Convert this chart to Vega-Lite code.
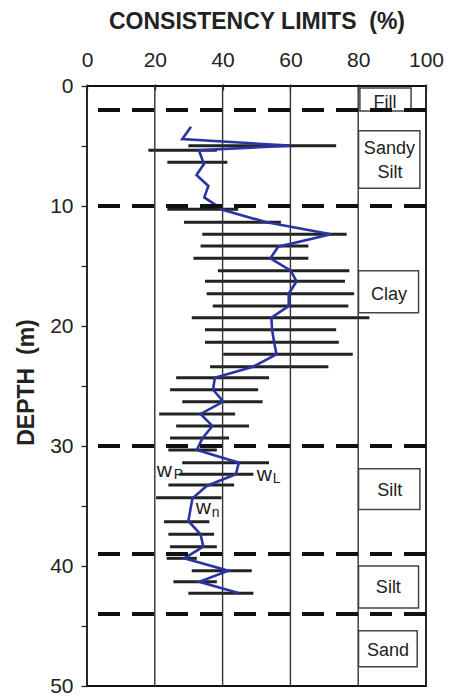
{
  "$schema": "https://vega.github.io/schema/vega-lite/v6.json",
  "width": 339,
  "height": 600,
  "autosize": {"type": "none"},
  "padding": {"left": 87, "top": 86, "right": 24, "bottom": 12},
  "background": "white",
  "config": {"view": {"stroke": "#111", "strokeWidth": 1.8}, "font": "Liberation Sans"},
  "datasets": {
    "bars": [
      {"depth": 4.97, "wp": 29.9, "wl": 73.5},
      {"depth": 5.36, "wp": 18.1, "wl": 38.3},
      {"depth": 6.36, "wp": 23.7, "wl": 41.4},
      {"depth": 10.27, "wp": 23.7, "wl": 44.6},
      {"depth": 11.36, "wp": 28.6, "wl": 57.2},
      {"depth": 12.36, "wp": 34.0, "wl": 76.6},
      {"depth": 13.33, "wp": 33.5, "wl": 65.3},
      {"depth": 14.36, "wp": 31.4, "wl": 65.3},
      {"depth": 15.39, "wp": 38.6, "wl": 77.4},
      {"depth": 16.28, "wp": 34.8, "wl": 76.1},
      {"depth": 17.31, "wp": 35.3, "wl": 78.8},
      {"depth": 18.33, "wp": 37.1, "wl": 77.1},
      {"depth": 19.31, "wp": 30.9, "wl": 83.3},
      {"depth": 20.31, "wp": 34.8, "wl": 73.5},
      {"depth": 21.36, "wp": 34.8, "wl": 74.3},
      {"depth": 22.36, "wp": 40.2, "wl": 78.4},
      {"depth": 23.39, "wp": 36.3, "wl": 71.2},
      {"depth": 24.31, "wp": 26.3, "wl": 53.7},
      {"depth": 25.31, "wp": 24.5, "wl": 50.5},
      {"depth": 26.31, "wp": 28.1, "wl": 51.8},
      {"depth": 27.33, "wp": 21.3, "wl": 43.7},
      {"depth": 28.33, "wp": 26.3, "wl": 47.8},
      {"depth": 29.33, "wp": 24.5, "wl": 41.9},
      {"depth": 30.33, "wp": 24.0, "wl": 38.3},
      {"depth": 31.39, "wp": 28.1, "wl": 53.7},
      {"depth": 32.36, "wp": 27.2, "wl": 49.1},
      {"depth": 33.25, "wp": 24.0, "wl": 43.4},
      {"depth": 34.31, "wp": 20.4, "wl": 39.7},
      {"depth": 36.31, "wp": 22.7, "wl": 36.1},
      {"depth": 37.36, "wp": 24.0, "wl": 37.5},
      {"depth": 38.39, "wp": 24.5, "wl": 38.3},
      {"depth": 39.36, "wp": 23.5, "wl": 32.4},
      {"depth": 40.39, "wp": 30.9, "wl": 48.6},
      {"depth": 41.31, "wp": 25.5, "wl": 38.3},
      {"depth": 42.28, "wp": 29.9, "wl": 49.1}
    ],
    "wn": [
      {"depth": 3.39, "wn": 30.7},
      {"depth": 4.42, "wn": 28.1},
      {"depth": 4.97, "wn": 59.8},
      {"depth": 5.36, "wn": 33.0},
      {"depth": 6.5, "wn": 34.5},
      {"depth": 7.42, "wn": 32.3},
      {"depth": 8.33, "wn": 35.8},
      {"depth": 9.28, "wn": 34.6},
      {"depth": 10.33, "wn": 40.2},
      {"depth": 11.36, "wn": 53.0},
      {"depth": 12.36, "wn": 72.0},
      {"depth": 13.39, "wn": 56.4},
      {"depth": 14.36, "wn": 54.1},
      {"depth": 15.39, "wn": 60.1},
      {"depth": 16.28, "wn": 61.8},
      {"depth": 17.31, "wn": 59.5},
      {"depth": 18.33, "wn": 59.5},
      {"depth": 19.31, "wn": 54.4},
      {"depth": 20.33, "wn": 54.6},
      {"depth": 21.36, "wn": 55.2},
      {"depth": 22.36, "wn": 55.9},
      {"depth": 23.39, "wn": 49.0},
      {"depth": 24.31, "wn": 37.7},
      {"depth": 25.31, "wn": 37.2},
      {"depth": 26.31, "wn": 40.2},
      {"depth": 27.33, "wn": 33.5},
      {"depth": 28.33, "wn": 37.0},
      {"depth": 29.33, "wn": 34.1},
      {"depth": 30.33, "wn": 32.4},
      {"depth": 31.39, "wn": 44.8},
      {"depth": 32.36, "wn": 43.9},
      {"depth": 33.33, "wn": 35.3},
      {"depth": 34.36, "wn": 31.1},
      {"depth": 36.25, "wn": 29.9},
      {"depth": 37.36, "wn": 33.5},
      {"depth": 38.39, "wn": 34.3},
      {"depth": 39.36, "wn": 28.7},
      {"depth": 40.39, "wn": 41.7},
      {"depth": 41.31, "wn": 33.1},
      {"depth": 42.28, "wn": 44.9}
    ],
    "bounds": [{"depth": 2}, {"depth": 10}, {"depth": 30}, {"depth": 39}, {"depth": 44}],
    "grid": [{"v": 20}, {"v": 40}, {"v": 60}, {"v": 80}],
    "boxes": [
      {"x1": 80.5, "x2": 95.6, "d1": 0.17, "d2": 2.08},
      {"x1": 80.1, "x2": 98.2, "d1": 3.72, "d2": 8.53},
      {"x1": 80.1, "x2": 97.8, "d1": 15.4, "d2": 18.9},
      {"x1": 80.1, "x2": 98.2, "d1": 31.9, "d2": 35.3},
      {"x1": 80.1, "x2": 97.8, "d1": 40.0, "d2": 43.5},
      {"x1": 80.1, "x2": 97.4, "d1": 45.4, "d2": 48.4}
    ],
    "boxlabels": [
      {"x": 87.9, "depth": 1.85, "t": "Fill"},
      {"x": 89.2, "depth": 5.67, "t": "Sandy"},
      {"x": 89.4, "depth": 7.69, "t": "Silt"},
      {"x": 89.1, "depth": 17.83, "t": "Clay"},
      {"x": 89.3, "depth": 34.17, "t": "Silt"},
      {"x": 88.9, "depth": 42.28, "t": "Silt"},
      {"x": 88.8, "depth": 47.47, "t": "Sand"}
    ],
    "wlabels": [
      {"x": 20.6, "depth": 32.6, "t": "w"},
      {"x": 50.1, "depth": 32.9, "t": "w"},
      {"x": 32.1, "depth": 35.7, "t": "w"}
    ],
    "wsubs": [
      {"x": 25.6, "depth": 32.75, "t": "P"},
      {"x": 54.8, "depth": 33.1, "t": "L"},
      {"x": 36.8, "depth": 35.9, "t": "n"}
    ]
  },
  "layer": [
    {
      "data": {"name": "bars"},
      "mark": {"type": "rule", "color": "#222", "strokeWidth": 3},
      "encoding": {
        "x": {
          "field": "wp", "type": "quantitative",
          "scale": {"domain": [0, 100], "nice": false, "zero": false},
          "axis": {
            "orient": "top",
            "values": [0, 5, 10, 15, 20, 25, 30, 35, 40, 45, 50, 55, 60, 65, 70, 75, 80, 85, 90, 95, 100],
            "labelExpr": "datum.value % 20 === 0 ? datum.label : ''",
            "labelOverlap": false,
            "labelFlush": false,
            "domain": false,
            "grid": false,
            "offset": -4,
            "tickSize": 6,
            "tickColor": "#222",
            "tickWidth": 1.3,
            "labelFontSize": 21,
            "labelColor": "#222",
            "labelBaseline": "alphabetic",
            "labelPadding": 18,
            "title": "CONSISTENCY LIMITS\u00a0 (%)",
            "titleFontSize": 23,
            "titleFontWeight": "bold",
            "titleColor": "#222",
            "titleBaseline": "alphabetic",
            "titleAlign": "center",
            "titleAnchor": "middle",
            "titleX": 169.5,
            "titleY": -62
          }
        },
        "x2": {"field": "wl"},
        "y": {
          "field": "depth", "type": "quantitative",
          "scale": {"domain": [0, 50], "reverse": true, "nice": false, "zero": false},
          "axis": {
            "orient": "left",
            "values": [0, 5, 10, 15, 20, 25, 30, 35, 40, 45, 50],
            "labelExpr": "datum.value % 10 === 0 ? datum.label : ''",
            "labelOverlap": false,
            "labelFlush": false,
            "domain": false,
            "grid": false,
            "tickSize": 6,
            "tickColor": "#222",
            "tickWidth": 1.3,
            "labelFontSize": 21,
            "labelColor": "#222",
            "labelPadding": 8,
            "title": "DEPTH\u00a0 (m)",
            "titleFontSize": 23,
            "titleFontWeight": "bold",
            "titleColor": "#222",
            "titleBaseline": "alphabetic",
            "titleAngle": -90,
            "titleAlign": "center",
            "titleX": -54,
            "titleY": 296
          }
        }
      }
    },
    {
      "data": {"name": "grid"},
      "mark": {"type": "rule", "color": "#333", "strokeWidth": 1.4},
      "encoding": {
        "x": {"field": "v", "type": "quantitative"}
      }
    },
    {
      "data": {"name": "wn"},
      "mark": {"type": "line", "color": "#2a35a3", "strokeWidth": 2.6, "strokeJoin": "miter"},
      "encoding": {
        "x": {"field": "wn", "type": "quantitative"},
        "y": {"field": "depth", "type": "quantitative"},
        "order": {"field": "depth", "type": "quantitative"}
      }
    },
    {
      "data": {"name": "boxes"},
      "mark": {"type": "rect", "fill": "white", "stroke": "#444", "strokeWidth": 1.5},
      "encoding": {
        "x": {"field": "x1", "type": "quantitative"},
        "x2": {"field": "x2"},
        "y": {"field": "d1", "type": "quantitative"},
        "y2": {"field": "d2"}
      }
    },
    {
      "data": {"name": "bounds"},
      "mark": {"type": "rule", "color": "#111", "strokeWidth": 4, "strokeDash": [22, 12]},
      "encoding": {
        "y": {"field": "depth", "type": "quantitative"}
      }
    },
    {
      "data": {"name": "boxlabels"},
      "mark": {"type": "text", "fontSize": 18, "color": "#222", "align": "center", "baseline": "alphabetic"},
      "encoding": {
        "x": {"field": "x", "type": "quantitative"},
        "y": {"field": "depth", "type": "quantitative"},
        "text": {"field": "t"}
      }
    },
    {
      "data": {"name": "wlabels"},
      "mark": {"type": "text", "fontSize": 21, "color": "#222", "align": "left", "baseline": "alphabetic"},
      "encoding": {
        "x": {"field": "x", "type": "quantitative"},
        "y": {"field": "depth", "type": "quantitative"},
        "text": {"field": "t"}
      }
    },
    {
      "data": {"name": "wsubs"},
      "mark": {"type": "text", "fontSize": 14, "color": "#222", "align": "left", "baseline": "alphabetic"},
      "encoding": {
        "x": {"field": "x", "type": "quantitative"},
        "y": {"field": "depth", "type": "quantitative"},
        "text": {"field": "t"}
      }
    }
  ]
}
